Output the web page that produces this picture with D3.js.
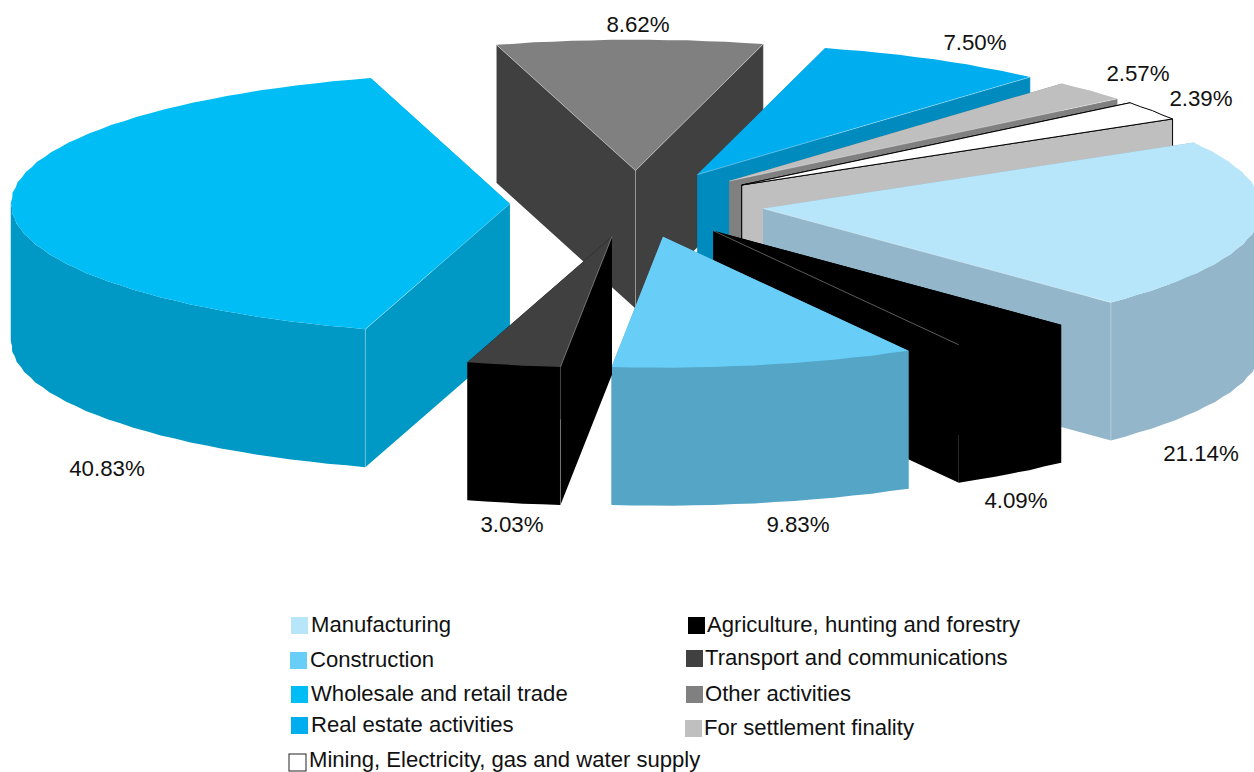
<!DOCTYPE html>
<html>
<head>
<meta charset="utf-8">
<script src="https://cdn.jsdelivr.net/npm/d3@7"></script>
<style>
  html, body { margin: 0; padding: 0; background: #fff; }
  svg { display: block; }
  text { font-family: "Liberation Sans", Arial, sans-serif; fill: #111; }
</style>
</head>
<body>
<svg id="chart" width="1254" height="772"></svg>
<script>
// pie order, clockwise from the Manufacturing edge
var categories = ["Manufacturing", "Agriculture, hunting and forestry", "Construction", "Transport and communications",
  "Wholesale and retail trade", "Other activities", "Real estate activities", "For settlement finality",
  "Mining, Electricity, gas and water supply"];
var shares = [21.14, 4.09, 9.83, 3.03, 40.83, 8.62, 7.50, 2.57, 2.39];
var topColors = ["#B7E5FA", "#000000", "#69CEF7", "#404040", "#00BEF5", "#808080", "#00ADEF", "#BFBFBF", "#FFFFFF"];
var wallColors = ["#93B6CA", "#000000", "#55A5C6", "#000000", "#0098C4", "#404040", "#008BBF", "#808080", "#BFBFBF"];

// layout only
var labelPos = [[1201, 453], [1016, 500], [798, 524], [512, 524], [107, 468], [638, 24], [975, 42], [1138, 73], [1201, 98]];
var legendPos = [[291, 617], [688, 617], [290, 652], [686, 650], [291, 686], [686, 686], [291, 717], [685, 720], [289, 754]];
var cx = 637, cy = 204, rx = 499, ry = 131, depth = 138, explode = 0.255;
var startDeg = 59.7;

var svg = d3.select("#chart");
var xs = d3.scaleLinear().domain([-1, 1]).range([cx - rx, cx + rx]);
var ys = d3.scaleLinear().domain([-1, 1]).range([cy - ry, cy + ry]);

var pie = d3.pie().sort(null).startAngle(startDeg * Math.PI / 180).endAngle((startDeg + 360) * Math.PI / 180);
var arcs = pie(shares);

// unit circle point, angle clockwise from 12 o'clock
function proj(a, r, mid) {
  var ox = explode * Math.sin(mid), oy = -explode * Math.cos(mid);
  return [xs(r * Math.sin(a) + ox), ys(-r * Math.cos(a) + oy)];
}
function down(p) { return [p[0], p[1] + depth]; }
var poly = d3.line();

var slices = arcs.map(function (d, i) {
  var mid = (d.startAngle + d.endAngle) / 2;
  var n = Math.max(2, Math.round((d.endAngle - d.startAngle) / 0.04));
  // the rim of the original is slightly scalloped, so every other point dips in a little
  var rim = d3.range(n + 1).map(function (k) {
    var r = (k % 2 && k < n) ? 0.998 : 1;
    return proj(d.startAngle + k / n * (d.endAngle - d.startAngle), r, mid);
  });
  return { i: i, mid: mid, rim: rim, apex: proj(0, 0, mid), start: rim[0], end: rim[rim.length - 1], front: -Math.cos(mid) };
});

// true when the interior of the slice sits above the edge, so its wall faces us
function facesFront(s, p) {
  var q = s.rim[Math.floor(s.rim.length / 2)];
  var side = (p[0] - s.apex[0]) * (q[1] - s.apex[1]) - (p[1] - s.apex[1]) * (q[0] - s.apex[0]);
  return (p[0] > s.apex[0]) ? side < 0 : side > 0;
}

slices.sort(function (a, b) { return a.front - b.front; });

slices.forEach(function (s) {
  var g = svg.append("g");
  var line = s.i === 8 ? "#000" : "none";
  var wall = wallColors[s.i];

  // the two cut faces
  [s.start, s.end].forEach(function (p) {
    g.append("path")
      .attr("d", poly([s.apex, p, down(p), down(s.apex)]) + "Z")
      .attr("fill", wall).attr("stroke", line);
  });

  // outer wall, only the part of the rim that faces us
  var frontRim = s.rim.filter(function (p) { return p[1] >= s.apex[1] - 2; });
  if (frontRim.length > 1) {
    g.append("path")
      .attr("d", poly(frontRim.concat(frontRim.map(down).reverse())) + "Z")
      .attr("fill", wall);
  }

  // top
  g.append("path")
    .attr("d", poly([s.apex].concat(s.rim)) + "Z")
    .attr("fill", topColors[s.i]).attr("stroke", line);

  // thin light seams along visible corners, as the original has
  if (s.i !== 8 && s.i !== 2) {
    var both = facesFront(s, s.start) && facesFront(s, s.end);
    [s.start, s.end].forEach(function (p) {
      if (!facesFront(s, p)) return;
      g.append("path").attr("d", poly([s.apex, p])).attr("fill", "none")
        .attr("stroke", "#fff").attr("stroke-opacity", 0.45).attr("stroke-width", 0.8);
      if (s.i === 1) return;
      g.append("path").attr("d", poly([p, down(p)])).attr("fill", "none")
        .attr("stroke", "#fff").attr("stroke-opacity", 0.35).attr("stroke-width", 0.8);
    });
    if (both) {
      g.append("path").attr("d", poly([s.apex, down(s.apex)])).attr("fill", "none")
        .attr("stroke", "#fff").attr("stroke-opacity", 0.35).attr("stroke-width", 0.8);
    }
  }
});

// percent labels
svg.append("g").selectAll("text").data(shares).join("text")
  .attr("x", function (d, i) { return labelPos[i][0]; })
  .attr("y", function (d, i) { return labelPos[i][1]; })
  .attr("dy", "0.35em")
  .attr("text-anchor", "middle")
  .attr("font-size", 22.3)
  .text(function (d) { return d.toFixed(2) + "%"; });

// legend
var legend = svg.append("g").selectAll("g").data(categories).join("g")
  .attr("transform", function (d, i) { return "translate(" + legendPos[i][0] + "," + legendPos[i][1] + ")"; });
legend.append("rect")
  .attr("width", 17).attr("height", 17)
  .attr("fill", function (d, i) { return topColors[i]; })
  .attr("stroke", function (d, i) { return i === 8 ? "#222" : "none"; });
legend.append("text")
  .attr("x", function (d, i) { return (i % 2 && i < 8) ? 19 : 20; })
  .attr("y", function (d, i) { return i === 8 ? 12.5 : 15; })
  .attr("font-size", 22.1)
  .text(function (d) { return d; });
</script>
</body>
</html>
